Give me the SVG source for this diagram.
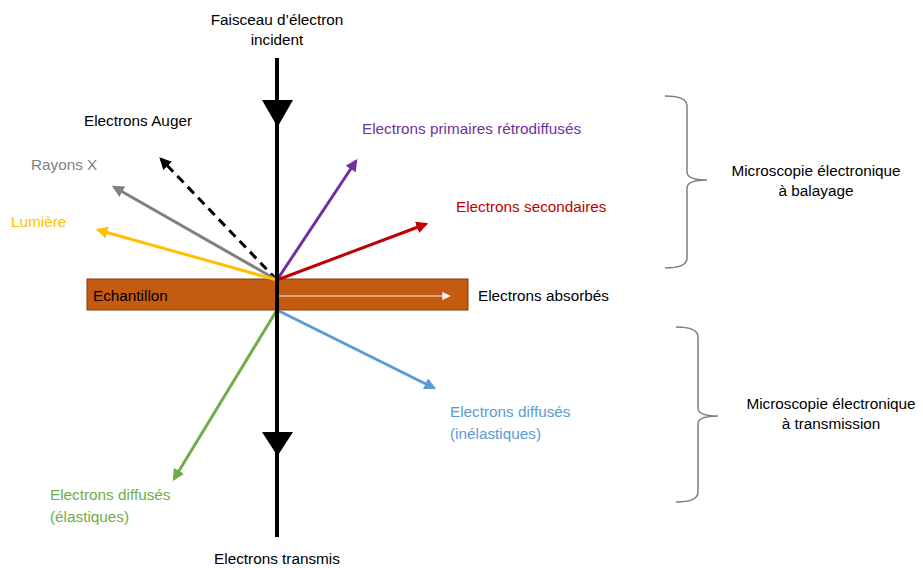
<svg xmlns="http://www.w3.org/2000/svg" width="923" height="568" viewBox="0 0 923 568">
<style>
text{font-family:"Liberation Sans",Arial,sans-serif;font-size:15.3px;}
.ray{stroke-width:3;fill:none;}
.brace{stroke:#7f7f7f;stroke-width:1.5;fill:none;}
</style>
<defs>
<marker id="mk-black" viewBox="0 0 10 10" refX="8" refY="5" markerWidth="4" markerHeight="4" orient="auto" markerUnits="strokeWidth"><path d="M0,0 L10,5 L0,10 z" fill="#000"/></marker>
<marker id="mk-gray" viewBox="0 0 10 10" refX="8" refY="5" markerWidth="4" markerHeight="4" orient="auto" markerUnits="strokeWidth"><path d="M0,0 L10,5 L0,10 z" fill="#7f7f7f"/></marker>
<marker id="mk-orange" viewBox="0 0 10 10" refX="8" refY="5" markerWidth="4" markerHeight="4" orient="auto" markerUnits="strokeWidth"><path d="M0,0 L10,5 L0,10 z" fill="#ffc000"/></marker>
<marker id="mk-purple" viewBox="0 0 10 10" refX="8" refY="5" markerWidth="4" markerHeight="4" orient="auto" markerUnits="strokeWidth"><path d="M0,0 L10,5 L0,10 z" fill="#7030a0"/></marker>
<marker id="mk-red" viewBox="0 0 10 10" refX="8" refY="5" markerWidth="4" markerHeight="4" orient="auto" markerUnits="strokeWidth"><path d="M0,0 L10,5 L0,10 z" fill="#c00000"/></marker>
<marker id="mk-blue" viewBox="0 0 10 10" refX="8" refY="5" markerWidth="4" markerHeight="4" orient="auto" markerUnits="strokeWidth"><path d="M0,0 L10,5 L0,10 z" fill="#5b9bd5"/></marker>
<marker id="mk-green" viewBox="0 0 10 10" refX="8" refY="5" markerWidth="4" markerHeight="4" orient="auto" markerUnits="strokeWidth"><path d="M0,0 L10,5 L0,10 z" fill="#70ad47"/></marker>
<marker id="mk-white" viewBox="0 0 10 10" refX="8" refY="5" markerWidth="7" markerHeight="7" orient="auto" markerUnits="strokeWidth"><path d="M0,0 L10,5 L0,10 z" fill="#f2f2f2"/></marker>
</defs>

<g id="sample">
<rect x="87" y="279" width="381" height="31" fill="#c55a11" stroke="#843c0c" stroke-width="1"/>
<text x="93" y="301" fill="#000">Echantillon</text>
</g>

<g id="connectors">
<line class="ray" x1="277" y1="280" x2="161" y2="159" stroke="#000" stroke-dasharray="9,6" marker-end="url(#mk-black)"/>
<line class="ray" x1="277" y1="280" x2="114" y2="187" stroke="#7f7f7f" marker-end="url(#mk-gray)"/>
<line class="ray" x1="277" y1="280" x2="98" y2="230" stroke="#ffc000" marker-end="url(#mk-orange)"/>
<line class="ray" x1="277" y1="280" x2="356" y2="161" stroke="#7030a0" marker-end="url(#mk-purple)"/>
<line class="ray" x1="277" y1="280" x2="426" y2="224" stroke="#c00000" marker-end="url(#mk-red)"/>
<line x1="279" y1="296" x2="449" y2="296" stroke="#f2f2f2" stroke-width="1.2" marker-end="url(#mk-white)"/>
<line class="ray" x1="277" y1="310" x2="434" y2="388" stroke="#5b9bd5" marker-end="url(#mk-blue)"/>
<line class="ray" x1="277" y1="310" x2="174" y2="479" stroke="#70ad47" marker-end="url(#mk-green)"/>
<line x1="277" y1="58" x2="277" y2="537" stroke="#000" stroke-width="4"/>
<path d="M262,100 L293,100 L277.5,127 z" fill="#000"/>
<path d="M262,432 L293,432 L277.5,456 z" fill="#000"/>
</g>

<g id="beam-label">
<text x="277" y="25" text-anchor="middle">Faisceau d’électron</text>
<text x="277" y="45" text-anchor="middle">incident</text>
</g>
<g id="auger"><text x="84" y="126" fill="#000">Electrons Auger</text></g>
<g id="xray"><text x="31" y="170" fill="#7f7f7f">Rayons X</text></g>
<g id="light"><text x="11" y="227" fill="#ffc000">Lumière</text></g>
<g id="primary"><text x="362" y="134" fill="#7030a0">Electrons primaires rétrodiffusés</text></g>
<g id="secondary"><text x="456" y="212" fill="#c00000">Electrons secondaires</text></g>
<g id="absorbed"><text x="478" y="301" fill="#000">Electrons absorbés</text></g>
<g id="inelastic">
<text x="450" y="417" fill="#5b9bd5">Electrons diffusés</text>
<text x="450" y="439" fill="#5b9bd5">(inélastiques)</text>
</g>
<g id="elastic">
<text x="50" y="500" fill="#70ad47">Electrons diffusés</text>
<text x="50" y="522" fill="#70ad47">(élastiques)</text>
</g>
<g id="transmitted"><text x="277" y="564" text-anchor="middle" fill="#000">Electrons transmis</text></g>

<g id="sem">
<path class="brace" d="M665,96 Q687,96 687,106 L687,172 Q687,180 707,180 Q687,180 687,188 L687,258 Q687,268 665,268"/>
<text x="816" y="176" text-anchor="middle">Microscopie électronique</text>
<text x="816" y="196" text-anchor="middle">à balayage</text>
</g>
<g id="tem">
<path class="brace" d="M676,327 Q698,327 698,337 L698,408 Q698,416 718,416 Q698,416 698,424 L698,492 Q698,502 676,502"/>
<text x="831" y="409" text-anchor="middle">Microscopie électronique</text>
<text x="831" y="429" text-anchor="middle">à transmission</text>
</g>
</svg>
